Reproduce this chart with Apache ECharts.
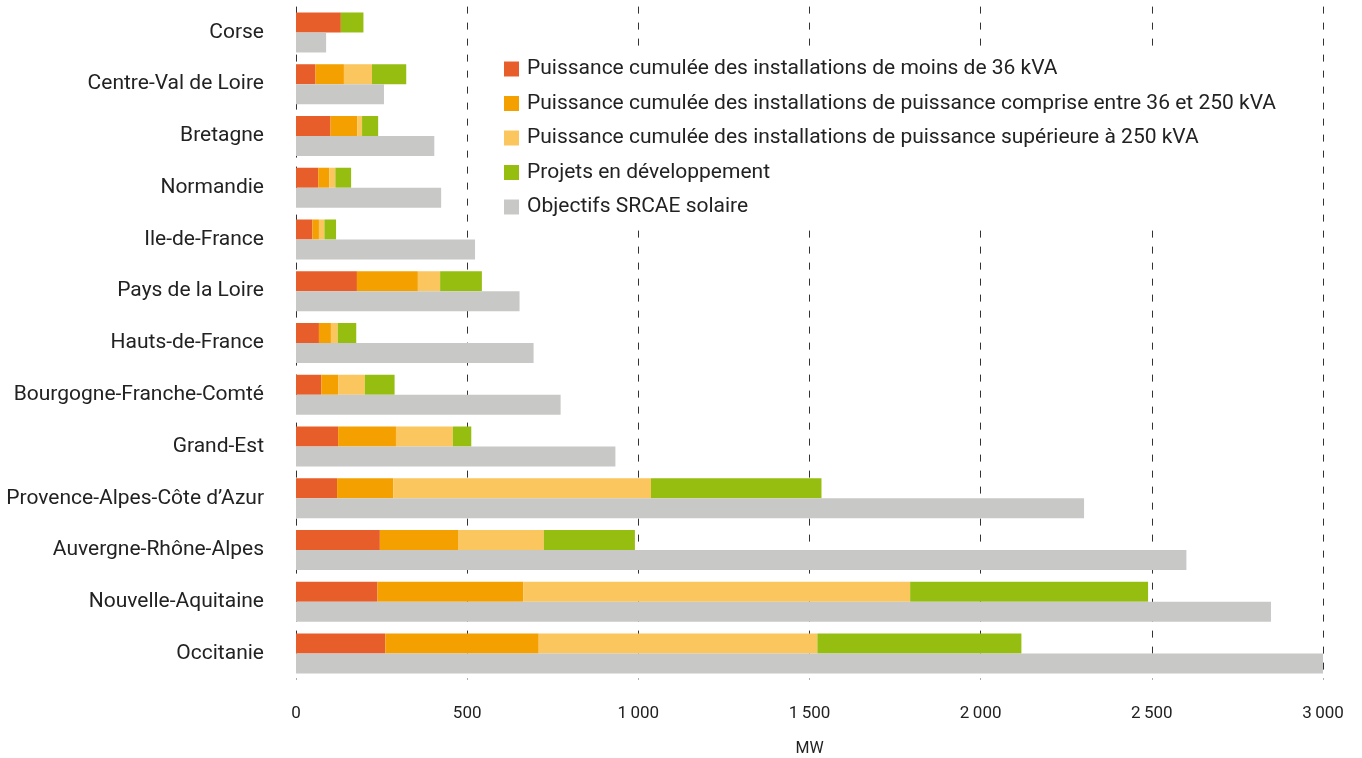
<!DOCTYPE html>
<html>
<head>
<meta charset="utf-8">
<script src="https://cdn.jsdelivr.net/npm/echarts@6/dist/echarts.min.js"></script>
<style>
html,body{margin:0;padding:0;background:#fff;}
#chart{width:1362px;height:758px;}
</style>
</head>
<body>
<div id="chart"></div>
<script>
const categories = ['Corse','Centre-Val de Loire','Bretagne','Normandie','Ile-de-France','Pays de la Loire','Hauts-de-France','Bourgogne-Franche-Comté','Grand-Est','Provence-Alpes-Côte d’Azur','Auvergne-Rhône-Alpes','Nouvelle-Aquitaine','Occitanie'];
const moins36 = [131,57,101,65,48,178,67,74,123,120,245,238,261];
const entre36et250 = [0,83,78,32,19,178,35,50,169,164,230,426,448];
const plus250 = [0,82,14,18,16,65,20,77,166,753,249,1130,814];
const projets = [66,100,47,46,34,122,54,87,54,498,266,695,596];
const objectifs = [88,257,404,424,523,653,694,773,933,2302,2601,2848,3000];

const names = [
  'Puissance cumulée des installations de moins de 36 kVA',
  'Puissance cumulée des installations de puissance comprise entre 36 et 250 kVA',
  'Puissance cumulée des installations de puissance supérieure à 250 kVA',
  'Projets en développement',
  'Objectifs SRCAE solaire'
];
const colors = ['#E85E2A','#F4A000','#FCC65E','#95BE11','#C8C8C6'];
const FONT = 'Roboto';

const chart = echarts.init(document.getElementById('chart'));
const stackSeries = [moins36, entre36et250, plus250, projets].map((d,i)=>({
  name: names[i], type:'bar', stack:'installe', data:d, barWidth:20, barGap:'0%',
  itemStyle:{color:colors[i]}, silent:true
}));
chart.setOption({
  animation:false,
  grid:{left:296,right:39,top:6.6,bottom:78.6,containLabel:false,outerBoundsMode:'none'},
  legend:{
    orient:'vertical', left:496, top:50.5, icon:'rect', itemWidth:15, itemHeight:15,
    itemGap:13.5, selectedMode:false, backgroundColor:'#fff', padding:[8,10,8,8],
    textStyle:{fontFamily:FONT,fontSize:21,color:'#222',lineHeight:20,padding:[0,0,0,3]},
    data:names
  },
  xAxis:{
    type:'value', min:0, max:3000, interval:500,
    name:'MW', nameLocation:'middle', nameGap:62,
    nameTextStyle:{fontFamily:FONT,fontSize:16,color:'#222'},
    axisLine:{show:false}, axisTick:{show:false},
    axisLabel:{fontFamily:FONT,fontSize:17,color:'#222',margin:26.3,
      formatter:v=>String(v).replace(/\B(?=(\d{3})+(?!\d))/g,'\u2009')},
    splitLine:{show:true,lineStyle:{color:'#333',width:1,type:[7,9]}}
  },
  yAxis:{
    type:'category', data:categories, inverse:true,
    axisLine:{show:false}, axisTick:{show:false},
    axisLabel:{fontFamily:FONT,fontSize:21,color:'#222',margin:32}
  },
  series: stackSeries.concat([{
    name: names[4], type:'bar', data:objectifs, barWidth:20, barGap:'0%',
    itemStyle:{color:colors[4]}, silent:true
  }])
});
</script>
</body>
</html>
